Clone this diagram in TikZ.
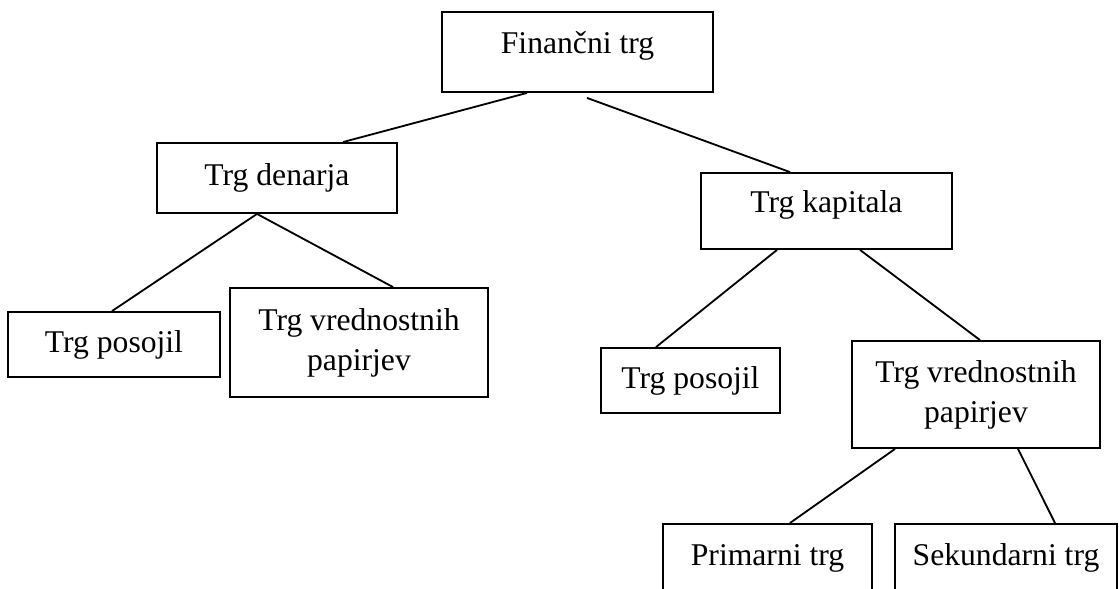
\documentclass[tikz,border=0pt]{standalone}
\usepackage{fontspec}
\setmainfont{Liberation Serif}
\usepackage{tikz}
\tikzset{box/.style = {draw, rectangle, line width = 1.3pt, align = center, inner sep = 0,
                       font = \fontsize{22.5}{28.4}\selectfont}}
\tikzset{link/.style = {line width = 1.3pt}}

\begin{document}
\begin{tikzpicture}[x = 0.025cm, y = -0.025cm]
    \useasboundingbox (0, 0) rectangle (1119, 589);
    \clip (0, 0) rectangle (1119, 589);
    \node [box, minimum width = 6.775cm, text height = 1.05cm, text depth = 0.95cm] (trg) at (577.5, 52) {Finančni trg};
    \node [box, minimum width = 6cm, minimum height = 1.75cm] (denar) at (277, 178) {Trg denarja};
    \node [box, minimum width = 6.275cm, text height = 1cm, text depth = 0.9cm] (kapital) at (826.5, 211) {Trg kapitala};
    \node [box, minimum width = 5.3cm, minimum height = 1.625cm] (posojilA) at (114, 344.5) {Trg posojil};
    \node [box, minimum width = 6.45cm, minimum height = 2.725cm] (papirjiA) at (359, 342.5) {Trg vrednostnih\\papirjev};
    \node [box, minimum width = 4.475cm, minimum height = 1.625cm] (posojilB) at (690.5, 380.5) {Trg posojil};
    \node [box, minimum width = 6.2cm, minimum height = 2.675cm] (papirjiB) at (976, 394.5) {Trg vrednostnih\\papirjev};
    \node [box, minimum width = 5.225cm, text height = 1.05cm, text depth = 1.45cm, anchor = north] (primarni) at (767.5, 523) {Primarni trg};
    \node [box, minimum width = 5.55cm, text height = 1.05cm, text depth = 1.45cm, anchor = north] (sekundarni) at (1006, 523) {Sekundarni trg};
    \draw [link] ([shift = {(-50.5, 0)}] trg.south) -- ([shift = {(66, 0)}] denar.north);
    \draw [link] ([shift = {(9.5, 5)}] trg.south) -- ([shift = {(-36.5, 0)}] kapital.north);
    \draw [link] ([shift = {(-20, 0)}] denar.south) -- ([shift = {(-2, 0)}] posojilA.north);
    \draw [link] ([shift = {(-20, 0)}] denar.south) -- ([shift = {(34, 0)}] papirjiA.north);
    \draw [link] ([shift = {(-49.5, 0)}] kapital.south) -- ([shift = {(-34.5, 0)}] posojilB.north);
    \draw [link] ([shift = {(33.5, 0)}] kapital.south) -- ([shift = {(4, 0)}] papirjiB.north);
    \draw [link] ([shift = {(-81, 0)}] papirjiB.south) -- ([shift = {(22.5, 0)}] primarni.north);
    \draw [link] ([shift = {(42, 0)}] papirjiB.south) -- ([shift = {(49, 0)}] sekundarni.north);
\end{tikzpicture}
\end{document}
